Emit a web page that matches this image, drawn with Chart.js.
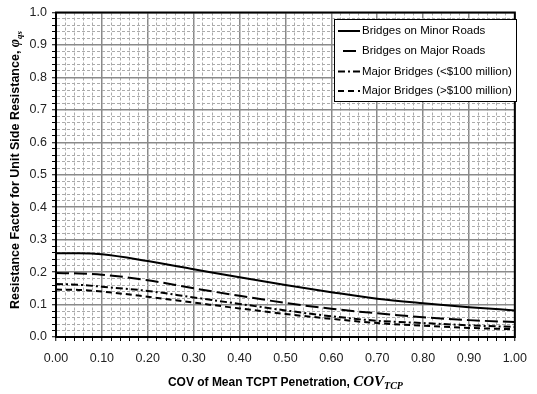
<!DOCTYPE html>
<html><head><meta charset="utf-8">
<script src="https://cdn.jsdelivr.net/npm/chart.js@4/dist/chart.umd.min.js"></script>
<style>html,body{margin:0;padding:0;background:#fff;}</style>
</head><body>
<canvas id="c" width="537" height="394" style="width:537px;height:394px;display:block"></canvas>
<script>
// ---- data ----
const covTCP = [0, 0.05, 0.1, 0.2, 0.3, 0.4, 0.5, 0.6, 0.7, 0.8, 0.9, 1.0];
const minorRoads   = [0.258, 0.258, 0.255, 0.234, 0.209, 0.184, 0.160, 0.138, 0.118, 0.104, 0.092, 0.082];
const majorRoads   = [0.197, 0.196, 0.192, 0.175, 0.150, 0.127, 0.105, 0.087, 0.073, 0.061, 0.052, 0.046];
const majorBelow100 = [0.163, 0.161, 0.155, 0.142, 0.122, 0.102, 0.082, 0.064, 0.050, 0.043, 0.036, 0.031];
const majorAbove100 = [0.146, 0.145, 0.140, 0.124, 0.106, 0.088, 0.071, 0.056, 0.043, 0.035, 0.028, 0.024];
const seriesLabels = ['Bridges on Minor Roads', 'Bridges on Major Roads', 'Major Bridges (<$100 million)', 'Major Bridges (>$100 million)'];
const xTickLabels = ['0.00','0.10','0.20','0.30','0.40','0.50','0.60','0.70','0.80','0.90','1.00'];
const yTickLabels = ['0.0','0.1','0.2','0.3','0.4','0.5','0.6','0.7','0.8','0.9','1.0'];

const seriesValues = [minorRoads, majorRoads, majorBelow100, majorAbove100];
const dashes = [[], [13,5], [7,3,2,3], [6,4]];

const isMajor = v => Math.round(v * 50) % 5 === 0;
const majIdx = v => Math.round(v * 10);

const datasets = seriesValues.map((vals, i) => ({
  label: seriesLabels[i],
  data: covTCP.map((x, j) => ({x, y: vals[j]})),
  borderColor: '#000',
  borderWidth: 2,
  borderDash: dashes[i],
  pointRadius: 0,
  fill: false,
  cubicInterpolationMode: 'monotone'
}));

const FONT = "'Liberation Sans', Arial, sans-serif";

const gridOpts = {
  color: ctx => (ctx.tick && isMajor(ctx.tick.value)) ? '#8a8a8a' : '#ababab',
  lineWidth: ctx => (ctx.tick && isMajor(ctx.tick.value)) ? 1.5 : 1,
  tickColor: '#000',
  tickWidth: 1,
  tickLength: 4,
  drawTicks: true
};
const borderOpts = {
  display: true, color: '#000', width: 2,
  dash: ctx => (ctx.type === 'tick' && ctx.tick && !isMajor(ctx.tick.value)) ? [3,2] : []
};

const decor = {
  id: 'decor',
  afterDraw(chart) {
    const c = chart.ctx, a = chart.chartArea;
    c.save();
    // plot frame
    c.strokeStyle = '#000'; c.lineWidth = 2; c.setLineDash([]);
    c.strokeRect(a.left, a.top, a.right - a.left, a.bottom - a.top);
    // legend
    const lx = 334, ly = 19, lw = 182, lh = 82;
    c.fillStyle = '#fff'; c.fillRect(lx, ly, lw, lh);
    c.lineWidth = 1; c.strokeStyle = '#000';
    c.strokeRect(lx + 0.5, ly + 0.5, lw, lh);
    const rows = [31, 51, 71.5, 91];
    const offs = [0, -5, 0, 0];
    c.font = "11.5px " + FONT; c.textBaseline = 'middle'; c.textAlign = 'left';
    chart.data.datasets.forEach((ds, i) => {
      c.beginPath(); c.lineWidth = 2; c.strokeStyle = '#000';
      c.setLineDash(ds.borderDash); c.lineDashOffset = offs[i];
      c.moveTo(338, rows[i]); c.lineTo(360, rows[i]); c.stroke();
      c.setLineDash([]); c.lineDashOffset = 0;
      c.fillStyle = '#000';
      c.fillText(ds.label, 362, rows[i]);
    });
    // x title (centred on the plot area)
    c.textBaseline = 'alphabetic';
    const t1 = 'COV of Mean TCPT Penetration, ';
    const fB = "bold 12px " + FONT;
    const fI = "italic bold 15px 'Liberation Serif', 'Times New Roman', serif";
    const fS = "italic bold 10px 'Liberation Serif', 'Times New Roman', serif";
    c.font = fB; const w1 = c.measureText(t1).width;
    c.font = fI; const w2 = c.measureText('COV').width;
    c.font = fS; const w3 = c.measureText('TCP').width;
    let x = (a.left + a.right) / 2 - (w1 + w2 + w3) / 2;
    c.font = fB; c.fillText(t1, x, 386); x += w1;
    c.font = fI; c.fillText('COV', x, 386); x += w2;
    c.font = fS; c.fillText('TCP', x, 389);
    // y title
    c.translate(19, 0); c.rotate(-Math.PI / 2);
    const t2 = 'Resistance Factor for Unit Side Resistance, ';
    const gB = "bold 12.5px " + FONT;
    const gI = "italic bold 14px 'Liberation Serif', serif";
    const gS = "italic bold 9px 'Liberation Serif', serif";
    c.font = gB; const v1 = c.measureText(t2).width;
    c.font = gI; const v2 = c.measureText('φ').width;
    c.font = gS; const v3 = c.measureText('qs').width;
    let yy = -170 - (v1 + v2 + v3) / 2;
    c.font = gB; c.fillText(t2, yy, 0); yy += v1;
    c.font = gI; c.fillText('φ', yy, 0); yy += v2;
    c.font = gS; c.fillText('qs', yy, 3);
    c.restore();
  }
};

new Chart(document.getElementById('c'), {
  type: 'line',
  data: { datasets },
  options: {
    responsive: false,
    animation: false,
    devicePixelRatio: 1,
    layout: { padding: { top: 12, right: 16, left: 0, bottom: 0 } },
    plugins: { legend: { display: false }, tooltip: { enabled: false } },
    scales: {
      x: {
        type: 'linear', min: 0, max: 1,
        afterFit: s => { s.height = 57; },
        ticks: {
          stepSize: 0.02, maxTicksLimit: 200, autoSkip: false, maxRotation: 0,
          padding: 10, color: '#222', font: { family: FONT, size: 12.5 },
          callback: v => isMajor(v) ? xTickLabels[majIdx(v)] : ''
        },
        grid: gridOpts, border: borderOpts
      },
      y: {
        type: 'linear', min: 0, max: 1,
        afterFit: s => { s.width = 56; },
        ticks: {
          stepSize: 0.02, maxTicksLimit: 200, autoSkip: false,
          padding: 5, color: '#222', font: { family: FONT, size: 12.5 },
          callback: v => isMajor(v) ? yTickLabels[majIdx(v)] : ''
        },
        grid: gridOpts, border: borderOpts
      }
    }
  },
  plugins: [decor]
});
</script>
</body></html>
